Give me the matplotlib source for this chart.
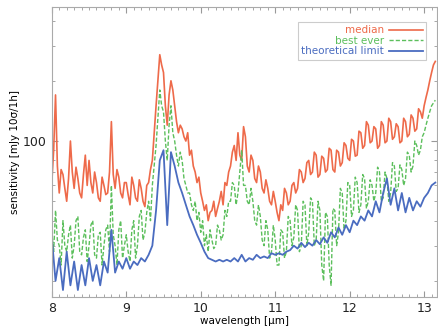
import numpy as np
import matplotlib
matplotlib.use("Agg")
import matplotlib.pyplot as plt
from matplotlib.ticker import FixedLocator, FixedFormatter, MultipleLocator, NullFormatter

# wavelength grids [um]
wl_fine = np.round(np.arange(8.0, 13.151, 0.025), 3)   # median / best ever
wavelength = np.round(np.arange(8.0, 13.151, 0.05), 2)  # theoretical limit

# sensitivity [mJy 10sigma/1h]
median = [62, 90, 170, 75, 55, 72, 68, 58, 50, 65,
          100, 70, 58, 74, 65, 55, 52, 68, 85, 60,
          80, 62, 55, 70, 62, 52, 50, 66, 60, 54,
          55, 70, 125, 68, 58, 72, 66, 55, 52, 62,
          62, 54, 48, 66, 60, 52, 50, 64, 58, 50,
          47, 60, 62, 72, 80, 110, 150, 200, 270, 240,
          220, 150, 120, 170, 200, 180, 150, 125, 110, 120,
          115, 105, 100, 110, 85, 90, 75, 70, 62, 66,
          55, 50, 45, 48, 40, 44, 45, 50, 42, 46,
          50, 56, 48, 62, 60, 70, 75, 88, 95, 80,
          110, 85, 80, 118, 105, 75, 70, 85, 80, 65,
          62, 75, 70, 58, 55, 64, 58, 50, 48, 56,
          50, 44, 40, 48, 45, 58, 55, 48, 50, 60,
          62, 55, 58, 72, 70, 62, 65, 78, 80, 68,
          70, 88, 85, 66, 68, 84, 82, 70, 72, 92,
          90, 72, 70, 90, 88, 75, 78, 98, 95, 82,
          80, 102, 100, 84, 85, 112, 110, 92, 95, 125,
          120, 98, 100, 118, 115, 92, 95, 125, 120, 98,
          100, 130, 125, 102, 105, 122, 118, 98, 100, 130,
          125, 105, 108, 135, 130, 112, 115, 145, 140, 130,
          150, 165, 180, 200, 220, 240, 250]

best_ever = [35, 28, 45, 32, 30, 24, 40, 30, 28, 34,
             38, 26, 30, 40, 42, 28, 27, 33, 36, 25,
             30, 38, 40, 27, 26, 34, 35, 24, 30, 36,
             38, 28, 60, 34, 30, 24, 36, 40, 26, 30,
             34, 28, 25, 36, 40, 26, 30, 42, 45, 32,
             35, 44, 50, 40, 60, 75, 95, 130, 180, 150,
             140, 100, 80, 120, 150, 110, 100, 85, 75, 88,
             80, 65, 60, 55, 55, 48, 45, 50, 40, 44,
             35, 40, 30, 34, 28, 36, 32, 29, 30, 38,
             36, 32, 34, 45, 42, 50, 50, 62, 60, 48,
             55, 70, 90, 60, 60, 50, 48, 58, 50, 40,
             38, 48, 42, 32, 30, 40, 36, 26, 28, 38,
             32, 24, 24, 36, 35, 26, 28, 42, 40, 30,
             33, 48, 45, 28, 30, 50, 48, 30, 35, 52,
             50, 30, 32, 50, 45, 24, 20, 44, 42, 24,
             19, 46, 45, 30, 35, 58, 55, 36, 40, 62,
             60, 42, 45, 66, 62, 44, 48, 68, 65, 46,
             50, 64, 60, 50, 55, 74, 70, 50, 52, 70,
             65, 50, 55, 78, 75, 56, 58, 76, 72, 60,
             65, 88, 85, 70, 75, 100, 95, 85, 90, 105,
             110, 120, 130, 140, 150, 155, 160]

theoretical = [33, 20, 26, 18, 28, 19, 25, 18, 24, 19,
               26, 20, 24, 19, 25, 22, 36, 22, 25, 23,
               26, 23, 25, 24, 26, 25, 27, 30, 45, 80,
               90, 38, 88, 75, 62, 55, 48, 42, 38, 34,
               31, 28, 26, 25.5, 25, 25.5, 25, 25.5, 25, 26,
               25, 27, 25, 26, 25.5, 27, 26, 26.5, 26, 27.5,
               27, 27.5, 27, 28, 28.5, 30, 29, 31, 29.5, 31,
               30, 32, 30.5, 33, 31, 35, 33, 37, 34, 38,
               35, 40, 38, 42, 40, 45, 42, 50, 44, 55,
               65, 48, 58, 45, 55, 44, 52, 45, 50, 47,
               52, 55, 60, 62]

c_med = '#ee6a4a'
c_best = '#5cbf5c'
c_theo = '#4a6cc0'

fig = plt.figure(figsize=(4.39, 3.29), dpi=100)
ax = fig.add_axes([0.118, 0.097, 0.877, 0.882])

ax.plot(wl_fine, median, color=c_med, lw=1.2, label='median')
ax.plot(wl_fine, best_ever, color=c_best, lw=1.0, ls=(0, (3, 1.5)), label='best ever')
ax.plot(wavelength, theoretical, color=c_theo, lw=1.3, label='theoretical limit')

ax.set_yscale('log')
ax.set_xlim(8, 13.17)
ax.set_ylim(16.6, 468)

ax.xaxis.set_major_locator(MultipleLocator(1))
ax.xaxis.set_minor_locator(MultipleLocator(0.1))
ax.yaxis.set_major_locator(FixedLocator([100]))
ax.yaxis.set_major_formatter(FixedFormatter(['100']))
ax.yaxis.set_minor_locator(FixedLocator([20, 30, 40, 50, 60, 70, 80, 90, 200, 300, 400]))
ax.yaxis.set_minor_formatter(NullFormatter())
ax.tick_params(which='both', direction='in', top=True, right=True, colors='#999999',
               labelcolor='#222222', labelsize=9)
ax.tick_params(which='major', length=4)
ax.tick_params(which='minor', length=2)
for s in ax.spines.values():
    s.set_color('#aaaaaa')
    s.set_linewidth(0.8)

ax.set_xlabel('wavelength [µm]', fontsize=7.5, labelpad=1)
ax.set_ylabel('sensitivity [mJy 10σ/1h]', fontsize=7.5, labelpad=2)

leg = ax.legend(loc='upper right', bbox_to_anchor=(0.985, 0.965), markerfirst=False,
                labelcolor='linecolor', fontsize=7.5, fancybox=False, framealpha=1,
                handlelength=3.2, borderpad=0.3, labelspacing=0.05, handletextpad=0.5)
leg.get_frame().set_edgecolor('#cccccc')
leg.get_frame().set_linewidth(0.8)
for t in leg.get_texts():
    t.set_ha('right')
leg._legend_box.align = 'right'

fig.savefig('out.png', dpi=100)
